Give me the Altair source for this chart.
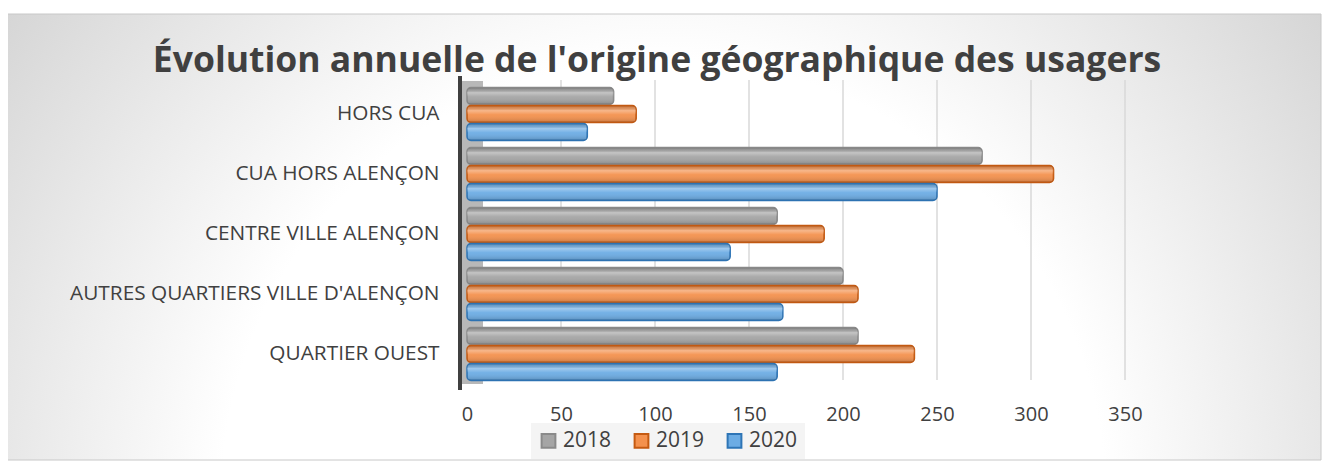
import altair as alt
import pandas as pd

categories = ["HORS CUA", "CUA HORS ALENÇON", "CENTRE VILLE ALENÇON",
              "AUTRES QUARTIERS VILLE D'ALENÇON", "QUARTIER OUEST"]
years = ["2018", "2019", "2020"]
v2018 = [78, 274, 165, 200, 208]
v2019 = [90, 312, 190, 208, 238]
v2020 = [64, 250, 140, 168, 165]
ticks = [0, 50, 100, 150, 200, 250, 300, 350]
grid_values = [50, 100, 150, 200, 250, 300, 350]
title_text = "Évolution annuelle de l'origine géographique des usagers"

fills = ["#a5a5a5", "#f4914d", "#6cace4"]
strokes = ["#8a8a8a", "#c55a11", "#2e75b6"]

rows = []
for i, c in enumerate(categories):
    for y, vals in zip(years, [v2018, v2019, v2020]):
        rows.append({"cat": c, "year": y, "value": vals[i]})
df = pd.DataFrame(rows)

W, H = 658, 300
PL, PT = 459, 76
TOTW, TOTH = 1314, 454
PR, PB = TOTW - PL - W, TOTH - PT - H

font = "Open Sans"

bg = alt.Chart(pd.DataFrame({"a": [0]})).mark_rect(
    color=alt.RadialGradient(
        gradient="radial", x1=0.5, y1=0.7, r1=0, x2=0.5, y2=0.7, r2=0.8,
        stops=[alt.GradientStop(offset=0, color="#ffffff"),
               alt.GradientStop(offset=0.42, color="#ffffff"),
               alt.GradientStop(offset=1, color="#bcbcbc")]),
    stroke="#c8c8c8", strokeWidth=1
).encode(x=alt.value(-PL - 2), x2=alt.value(W + PR - 1),
         y=alt.value(-PT + 6), y2=alt.value(H + PB - 2))

title = alt.Chart(pd.DataFrame({"t": [title_text]})).mark_text(
    font=font, fontSize=35.5, fontWeight="bold", color="#404040",
    align="center", baseline="middle").encode(
    text="t:N", x=alt.value(190), y=alt.value(-23))

wall = alt.Chart(pd.DataFrame({"a": [0]})).mark_rect(color="#b8b8b8").encode(
    x=alt.value(-6), x2=alt.value(16), y=alt.value(-3), y2=alt.value(H))

wall_edge = alt.Chart(pd.DataFrame({"a": [0]})).mark_rule(
    color="#404040", strokeWidth=4).encode(
    x=alt.value(-7), y=alt.value(-8), y2=alt.value(H + 6))

grid = alt.Chart(pd.DataFrame({"v": grid_values})).mark_rule(
    color="#d9d9d9", strokeWidth=1.5).encode(
    x=alt.X("v:Q", scale=alt.Scale(domain=[0, 350])),
    y=alt.value(-4), y2=alt.value(H - 4))

ysc = alt.Y("cat:N", sort=categories,
            scale=alt.Scale(paddingInner=0.12, paddingOuter=0.06),
            axis=alt.Axis(title=None, ticks=False, domain=False,
                          labelFont=font, labelFontSize=20.8, labelLimit=500,
                          labelColor="#404040", labelPadding=28, zindex=2))
yoff = alt.YOffset("year:N", sort=years, scale=alt.Scale(paddingInner=0.06))
xsc = alt.X("value:Q", scale=alt.Scale(domain=[0, 350], nice=False),
            axis=alt.Axis(title=None, values=ticks, grid=False, ticks=False,
                          domain=False, labelFont=font, labelFontSize=20,
                          labelFlush=False,
                          labelColor="#404040", labelPadding=20, zindex=2))

bars = alt.Chart(df).mark_bar(strokeWidth=1.5, cornerRadius=4).encode(
    x=xsc, y=ysc, yOffset=yoff,
    color=alt.Color("year:N", sort=years,
                    scale=alt.Scale(domain=years, range=fills),
                    legend=alt.Legend(title=None, orient="none",
                                      legendX=64, legendY=339,
                                      direction="horizontal",
                                      symbolType="square", symbolSize=190,
                                      symbolStrokeWidth=2,
                                      labelFont=font, labelFontSize=21,
                                      labelColor="#404040",
                                      columnPadding=18, padding=7,
                                      fillColor="#f4f4f4", zindex=2)),
    stroke=alt.Stroke("year:N", sort=years,
                      scale=alt.Scale(domain=years, range=strokes),
                      legend=alt.Legend(title=None)),
)

shine = alt.Chart(df).mark_bar(
    cornerRadius=4,
    color=alt.LinearGradient(
        gradient="linear", x1=0, y1=0, x2=0, y2=1,
        stops=[alt.GradientStop(offset=0, color="rgba(0,0,0,0.12)"),
               alt.GradientStop(offset=0.3, color="rgba(255,255,255,0.35)"),
               alt.GradientStop(offset=0.55, color="rgba(255,255,255,0.05)"),
               alt.GradientStop(offset=1, color="rgba(0,0,0,0.18)")])
).encode(x=alt.X("value:Q", scale=alt.Scale(domain=[0, 350], nice=False)),
         y=alt.Y("cat:N", sort=categories), yOffset=alt.YOffset("year:N", sort=years))

chart = alt.layer(bg, title, wall, grid, wall_edge, bars, shine).properties(
    width=W, height=H,
    padding={"left": PL, "top": PT, "right": PR, "bottom": PB},
    autosize=alt.AutoSizeParams(type="none"),
).configure_view(stroke=None).resolve_scale(y="shared")

chart.save("out.html", embed_options={"renderer": "svg", "actions": False})
